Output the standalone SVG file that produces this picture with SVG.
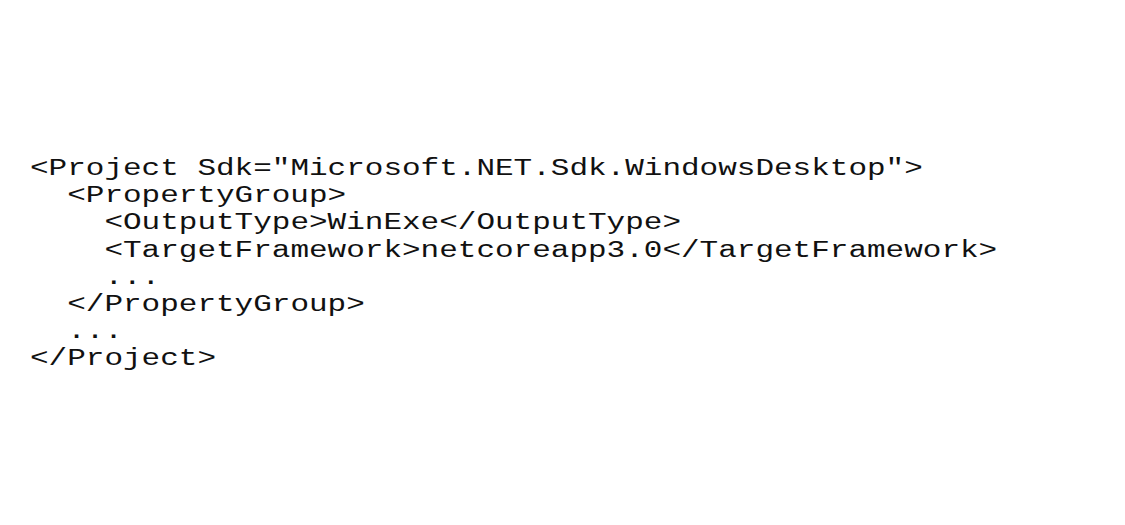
<svg xmlns="http://www.w3.org/2000/svg" width="1125" height="525" viewBox="0 0 1125 525">
<style>
text { font-family: "Liberation Mono", "DejaVu Sans Mono", monospace; font-size: 23px; fill: #111111; }
</style>
<rect width="1125" height="525" fill="#ffffff"/>
<g id="code">
<text x="30" y="175" textLength="892.8" lengthAdjust="spacingAndGlyphs">&lt;Project Sdk="Microsoft.NET.Sdk.WindowsDesktop"&gt;</text>
<text x="67.2" y="202.2" textLength="279" lengthAdjust="spacingAndGlyphs">&lt;PropertyGroup&gt;</text>
<text x="104.4" y="229.4" textLength="576.6" lengthAdjust="spacingAndGlyphs">&lt;OutputType&gt;WinExe&lt;/OutputType&gt;</text>
<text x="104.4" y="256.6" textLength="892.8" lengthAdjust="spacingAndGlyphs">&lt;TargetFramework&gt;netcoreapp3.0&lt;/TargetFramework&gt;</text>
<text x="104.4" y="283.8" textLength="55.8" lengthAdjust="spacingAndGlyphs">...</text>
<text x="67.2" y="311" textLength="297.6" lengthAdjust="spacingAndGlyphs">&lt;/PropertyGroup&gt;</text>
<text x="67.2" y="338.2" textLength="55.8" lengthAdjust="spacingAndGlyphs">...</text>
<text x="30" y="365.4" textLength="186" lengthAdjust="spacingAndGlyphs">&lt;/Project&gt;</text>
</g>
</svg>
